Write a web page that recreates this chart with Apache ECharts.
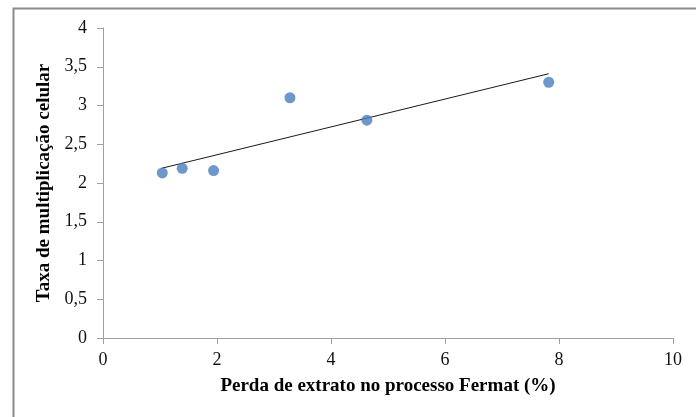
<!DOCTYPE html>
<html>
<head>
<meta charset="utf-8">
<script src="https://cdn.jsdelivr.net/npm/echarts@6/dist/echarts.min.js"></script>
<style>
html, body { margin: 0; padding: 0; background: #fff; }
#chart { width: 696px; height: 417px; }
</style>
</head>
<body>
<div id="chart"></div>
<script>
// Measured samples: extract loss (%) vs. cell multiplication rate
const perdaExtrato = [1.04, 1.39, 1.94, 3.28, 4.63, 7.82];
const taxaMultiplicacao = [2.13, 2.19, 2.16, 3.10, 2.81, 3.30];

// Linear trend line endpoints
const tendenciaX = [1.03, 7.82];
const tendenciaY = [2.19, 3.41];

const xTicks = [0, 2, 4, 6, 8, 10];
const yTicks = [0, 0.5, 1, 1.5, 2, 2.5, 3, 3.5, 4];

const serif = '"Liberation Serif", "DejaVu Serif", serif';

const chart = echarts.init(document.getElementById('chart'), null, { renderer: 'canvas' });

chart.setOption({
  animation: false,
  backgroundColor: '#ffffff',
  graphic: [{
    type: 'rect',
    left: 11, top: 6,
    shape: { width: 800, height: 600 },
    style: { fill: 'none', stroke: '#8a8a8a', lineWidth: 2 },
    silent: true
  }],
  grid: { left: 103, top: 28, right: 23, bottom: 79 },
  xAxis: {
    type: 'value',
    min: xTicks[0], max: xTicks[xTicks.length - 1], interval: 2,
    name: 'Perda de extrato no processo Fermat (%)',
    nameLocation: 'middle',
    nameGap: 48,
    nameTextStyle: { fontFamily: serif, fontWeight: 'bold', fontSize: 19, color: '#000', verticalAlign: 'middle' },
    axisLine: { show: true, lineStyle: { color: '#a0a0a0', width: 1 } },
    axisTick: { show: true, length: 6, lineStyle: { color: '#a0a0a0' } },
    axisLabel: { fontFamily: serif, fontSize: 18, color: '#111', margin: 13 },
    splitLine: { show: false }
  },
  yAxis: {
    type: 'value',
    min: yTicks[0], max: yTicks[yTicks.length - 1], interval: 0.5,
    name: 'Taxa de multiplicação celular',
    nameLocation: 'middle',
    nameGap: 58,
    nameTextStyle: { fontFamily: serif, fontWeight: 'bold', fontSize: 19, color: '#000', verticalAlign: 'middle' },
    axisLine: { show: true, lineStyle: { color: '#a0a0a0', width: 1 } },
    axisTick: { show: true, length: 6, lineStyle: { color: '#a0a0a0' } },
    axisLabel: {
      fontFamily: serif, fontSize: 18, color: '#111', margin: 16,
      formatter: v => String(v).replace('.', ',')
    },
    splitLine: { show: false }
  },
  series: [
    {
      type: 'line',
      data: tendenciaX.map((x, i) => [x, tendenciaY[i]]),
      symbol: 'none',
      lineStyle: { color: '#1a1a1a', width: 1 },
      z: 2
    },
    {
      type: 'scatter',
      data: perdaExtrato.map((x, i) => [x, taxaMultiplicacao[i]]),
      symbol: 'circle',
      symbolSize: 11,
      itemStyle: { color: '#4a7ebb' },
      z: 3
    }
  ]
});
</script>
</body>
</html>
